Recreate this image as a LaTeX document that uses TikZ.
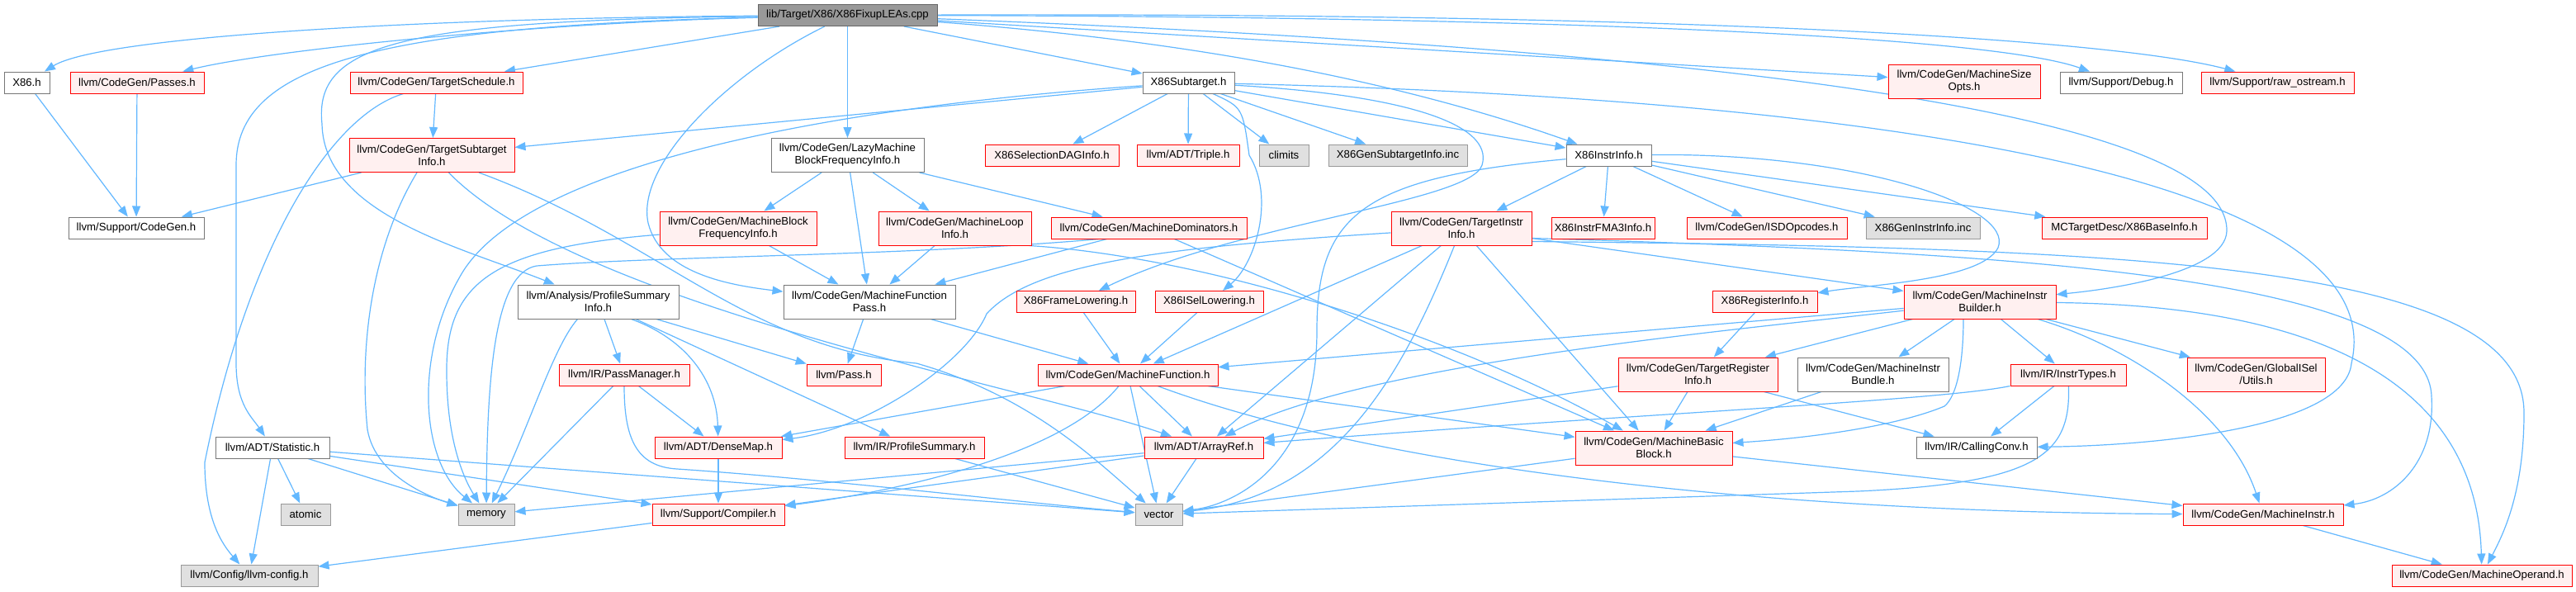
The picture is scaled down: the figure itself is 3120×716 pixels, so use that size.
\documentclass[tikz,border=0pt]{standalone}
\usepackage{fontspec}
\setmainfont{Liberation Sans}
\usetikzlibrary{arrows.meta}
\pgfdeclarelayer{bg}
\pgfsetlayers{bg,main}
\definecolor{edgec}{HTML}{63B8FF}
\definecolor{redb}{HTML}{FF0000}
\definecolor{redf}{HTML}{FFF0F0}
\definecolor{greyb}{HTML}{999999}
\definecolor{greyf}{HTML}{E0E0E0}
\definecolor{whiteb}{HTML}{777777}
\definecolor{rootf}{HTML}{999999}
\definecolor{rootb}{HTML}{666666}
\newcommand{\fnt}{\fontsize{13.2}{15}\selectfont}
\begin{document}
\begin{tikzpicture}[x=1pt,y=-1pt,
  nd/.style={draw, line width=1pt, inner sep=1pt, minimum height=26pt, font=\fnt, align=center},
  tall/.style={minimum height=41pt},
  wn/.style={nd, draw=whiteb, fill=white},
  rn/.style={nd, draw=redb, fill=redf},
  gn/.style={nd, draw=greyb, fill=greyf},
  rootn/.style={nd, draw=rootb, fill=rootf},
  edge/.style={draw=edgec, line width=1.2pt, -{Triangle[length=13pt,width=10pt]}}
]
\useasboundingbox (0,0) rectangle (3120,716);
% ---------- nodes ----------
\node[rootn, minimum width=217pt] (root) at (1026.5,18.5) {lib/Target/X86/X86FixupLEAs.cpp};
\node[wn, minimum width=55pt] (x86h) at (32.5,100) {X86.h};
\node[rn, minimum width=162pt] (passes) at (166,100) {llvm/CodeGen/Passes.h};
\node[rn, minimum width=209pt] (tsched) at (528.5,100) {llvm/CodeGen/TargetSchedule.h};
\node[rn, tall, minimum width=200pt] (tsi) at (523,188) {llvm/CodeGen/TargetSubtarget\\Info.h};
\node[wn, minimum width=164pt] (cgen) at (165,276) {llvm/Support/CodeGen.h};
\node[wn, minimum width=111pt] (x86st) at (1439.5,100) {X86Subtarget.h};
\node[wn, tall, minimum width=185pt] (lazy) at (1026.5,188) {llvm/CodeGen/LazyMachine\\BlockFrequencyInfo.h};
\node[rn, minimum width=162pt] (seldag) at (1274,188) {X86SelectionDAGInfo.h};
\node[rn, minimum width=124pt] (triple) at (1439,188) {llvm/ADT/Triple.h};
\node[gn, minimum width=60pt] (climits) at (1555,188) {climits};
\node[gn, minimum width=168pt] (gensub) at (1693,188) {X86GenSubtargetInfo.inc};
\node[wn, minimum width=103pt] (x86ii) at (1948.5,188) {X86InstrInfo.h};
\node[rn, tall, minimum width=184pt] (mso) at (2379,99) {llvm/CodeGen/MachineSize\\Opts.h};
\node[wn, minimum width=148pt] (debug) at (2569,100) {llvm/Support/Debug.h};
\node[rn, minimum width=185pt] (rawos) at (2758.5,100) {llvm/Support/raw\_ostream.h};
\node[wn, tall, minimum width=195pt] (psi) at (724.5,365.5) {llvm/Analysis/ProfileSummary\\Info.h};
\node[rn, minimum width=158pt] (pm) at (756,454) {llvm/IR/PassManager.h};
\node[rn, tall, minimum width=190pt] (mbfi) at (894,276.5) {llvm/CodeGen/MachineBlock\\FrequencyInfo.h};
\node[rn, tall, minimum width=185pt] (mli) at (1156.5,276.5) {llvm/CodeGen/MachineLoop\\Info.h};
\node[rn, minimum width=237pt] (md) at (1391.5,276) {llvm/CodeGen/MachineDominators.h};
\node[wn, tall, minimum width=208pt] (mfp) at (1053,365.5) {llvm/CodeGen/MachineFunction\\Pass.h};
\node[rn, minimum width=144pt] (x86fl) at (1303,365.5) {X86FrameLowering.h};
\node[rn, minimum width=131pt] (x86isel) at (1464.5,365.5) {X86ISelLowering.h};
\node[rn, minimum width=90pt] (pass) at (1022,454) {llvm/Pass.h};
\node[rn, minimum width=218pt] (mf) at (1366,454) {llvm/CodeGen/MachineFunction.h};
\node[rn, tall, minimum width=170pt] (tii) at (1770,276.5) {llvm/CodeGen/TargetInstr\\Info.h};
\node[rn, minimum width=125pt] (fma3) at (1941.5,276) {X86InstrFMA3Info.h};
\node[rn, minimum width=194pt] (isd) at (2140,276) {llvm/CodeGen/ISDOpcodes.h};
\node[gn, minimum width=138pt] (geninstr) at (2329,276) {X86GenInstrInfo.inc};
\node[rn, minimum width=127pt] (x86ri) at (2137.5,365.5) {X86RegisterInfo.h};
\node[rn, tall, minimum width=184pt] (mib) at (2398,365.5) {llvm/CodeGen/MachineInstr\\Builder.h};
\node[rn, tall, minimum width=193pt] (tri) at (2056.5,453.5) {llvm/CodeGen/TargetRegister\\Info.h};
\node[wn, tall, minimum width=183pt] (mibundle) at (2268.5,453.5) {llvm/CodeGen/MachineInstr\\Bundle.h};
\node[rn, minimum width=200pt] (x86bi) at (2573,276) {MCTargetDesc/X86BaseInfo.h};
\node[rn, minimum width=140pt] (instrt) at (2505,454) {llvm/IR/InstrTypes.h};
\node[rn, tall, minimum width=167pt] (gutils) at (2732.5,453.5) {llvm/CodeGen/GlobalISel\\/Utils.h};
\node[wn, minimum width=138pt] (stat) at (330,542) {llvm/ADT/Statistic.h};
\node[gn, minimum width=60pt] (atomic) at (370,623) {atomic};
\node[gn, minimum width=68pt] (memory) at (589,623) {memory};
\node[gn, minimum width=166pt] (llvmcfg) at (302,697) {llvm/Config/llvm-config.h};
\node[rn, minimum width=160pt] (compiler) at (870,623) {llvm/Support/Compiler.h};
\node[rn, minimum width=154pt] (densemap) at (870,542) {llvm/ADT/DenseMap.h};
\node[rn, minimum width=169pt] (profsum) at (1107.5,542) {llvm/IR/ProfileSummary.h};
\node[rn, minimum width=144pt] (arrayref) at (1458,542) {llvm/ADT/ArrayRef.h};
\node[gn, minimum width=57pt] (vector) at (1403.5,623) {vector};
\node[rn, tall, minimum width=190pt] (mbb) at (2003,542.5) {llvm/CodeGen/MachineBasic\\Block.h};
\node[wn, minimum width=146pt] (callconv) at (2394,542) {llvm/IR/CallingConv.h};
\node[rn, minimum width=194pt] (minstr) at (2741,623) {llvm/CodeGen/MachineInstr.h};
\node[rn, minimum width=218pt] (mop) at (3006,697) {llvm/CodeGen/MachineOperand.h};
% ---------- edges ----------
\begin{pgfonlayer}{bg}
\fill[white] (0,0) rectangle (3120,716);
% root
\draw[edge] (root) .. controls (500,22) and (120,45) .. (x86h);
\draw[edge] (root) .. controls (650,28) and (330,60) .. (passes);
\draw[edge] (root) -- (tsched);
\draw[edge] (root) .. controls (450,32) and (286,80) .. (286,200) -- (286,440) .. controls (286,490) and (305,505) .. (stat);
\draw[edge] (root) .. controls (480,25) and (380,55) .. (390,150) .. controls (392,260) and (560,300) .. (psi);
\draw[edge] (root) -- (lazy);
\draw[edge] (root) .. controls (880,90) and (770,200) .. (785,270) .. controls (800,330) and (880,345) .. (mfp);
\draw[edge] (root) -- (x86st);
\draw[edge] (root) .. controls (1450,50) and (1700,100) .. (x86ii);
\draw[edge] (root) -- (mso);
\draw[edge] (root) .. controls (1800,20) and (2400,40) .. (debug);
\draw[edge] (root) .. controls (2000,15) and (2550,45) .. (rawos);
\draw[edge] (root) .. controls (2100,60) and (2700,140) .. (2697,280) .. controls (2695,330) and (2560,350) .. (mib);
% X86Subtarget
\draw[edge] (x86st) -- (tsi);
\draw[edge] (x86st) .. controls (1000,130) and (640,200) .. (560,330) .. controls (500,430) and (510,560) .. (memory);
\draw[edge] (x86st) -- (seldag);
\draw[edge] (x86st) -- (triple);
\draw[edge] (x86st) -- (climits);
\draw[edge] (x86st) -- (gensub);
\draw[edge] (x86st) -- (x86ii);
\draw[edge] (x86st) .. controls (1700,115) and (1810,150) .. (1795,200) .. controls (1780,245) and (1500,270) .. (x86fl);
\draw[edge] (x86st) .. controls (1505,130) .. (1513,188) .. controls (1545,240) and (1520,320) .. (x86isel);
\draw[edge] (x86st) .. controls (2300,120) and (2900,220) .. (2848,440) .. controls (2840,520) and (2600,540) .. (callconv);
% X86InstrInfo
\draw[edge] (x86ii) -- (tii);
\draw[edge] (x86ii) -- (fma3);
\draw[edge] (x86ii) -- (isd);
\draw[edge] (x86ii) -- (geninstr);
\draw[edge] (x86ii) -- (x86bi);
\draw[edge] (x86ii) .. controls (2250,185) and (2440,250) .. (2420,300) .. controls (2400,340) and (2260,345) .. (x86ri);
\draw[edge] (x86ii) .. controls (1650,215) and (1595,260) .. (1595,400) .. controls (1595,560) and (1500,610) .. (vector);
% Lazy
\draw[edge] (lazy) -- (mbfi);
\draw[edge] (lazy) -- (mfp);
\draw[edge] (lazy) -- (mli);
\draw[edge] (lazy) -- (md);
% TargetSubtargetInfo
\draw[edge] (tsi) -- (cgen);
\draw[edge] ([xshift=-18pt]tsi.south) .. controls (450,300) and (435,420) .. (445,520) .. controls (455,580) and (530,605) .. (memory);
\draw[edge] (tsi) .. controls (700,370) and (1250,470) .. (arrayref);
\draw[edge] (tsi) .. controls (800,290) and (900,420) .. (1110,440) .. controls (1250,480) and (1330,560) .. (vector);
% TargetSchedule
\draw[edge] (tsched) -- (tsi);
\draw[edge] ([xshift=-40pt]tsched.south) .. controls (400,140) and (300,300) .. (248,560) .. controls (248,630) and (270,660) .. (llvmcfg);
% X86.h, Passes
\draw[edge] (x86h) -- (cgen);
\draw[edge] (passes) -- (cgen);
% ProfileSummaryInfo
\draw[edge] (psi) -- (pm);
\draw[edge] ([xshift=40pt]psi.south) .. controls (830,410) and (868,460) .. (densemap);
\draw[edge] (psi) -- (profsum);
\draw[edge] (psi) -- (pass);
\draw[edge] ([xshift=-25pt]psi.south) .. controls (670,420) and (640,520) .. (memory);
% PassManager
\draw[edge] (pm) -- (densemap);
\draw[edge] (pm) -- (memory);
\draw[edge] (pm) .. controls (756,530) and (770,565) .. (820,568) .. controls (1000,580) and (1250,610) .. (vector);
% MBFI, MLI, MD
\draw[edge] (mbfi) -- (mfp);
\draw[edge] (mbfi) .. controls (600,300) and (540,340) .. (541,450) .. controls (541,540) and (565,585) .. (memory);
\draw[edge] (mli) -- (mfp);
\draw[edge] ([xshift=90pt]mli.south) .. controls (1450,310) and (1750,400) .. (mbb);
\draw[edge] (md) -- (mfp);
\draw[edge] (md) -- (mbb);
\draw[edge] ([xshift=-60pt]md.south) .. controls (1100,310) and (800,310) .. (650,322) .. controls (600,330) and (590,450) .. (memory);
% MachineFunctionPass
\draw[edge] (mfp) -- (pass);
\draw[edge] (mfp) -- (mf);
\draw[edge] (x86fl) -- (mf);
\draw[edge] (x86isel) -- (mf);
% MachineFunction
\draw[edge] (mf) -- (densemap);
\draw[edge] (mf) -- (arrayref);
\draw[edge] (mf) -- (mbb);
\draw[edge] (mf) -- (vector);
\draw[edge] (mf) .. controls (1280,560) and (1050,600) .. (compiler);
\draw[edge] (mf) .. controls (1650,560) and (2100,620) .. (minstr);
% TargetInstrInfo
\draw[edge] (tii) -- (mib);
\draw[edge] (tii) -- (mbb);
\draw[edge] (tii) -- (mf);
\draw[edge] (tii) -- (arrayref);
\draw[edge] (tii) .. controls (1700,450) and (1620,600) .. (vector);
\draw[edge] (tii) .. controls (1400,300) and (1250,320) .. (1195,380) .. controls (1170,440) and (1050,520) .. (densemap);
\draw[edge] ([yshift=-12pt]tii.east) .. controls (2400,305) and (2940,330) .. (2945,480) .. controls (2950,560) and (2900,605) .. (minstr);
\draw[edge] ([yshift=-16pt]tii.east) .. controls (2600,300) and (3057,320) .. (3057,500) .. controls (3057,600) and (3030,650) .. (mop);
% X86RegisterInfo
\draw[edge] (x86ri) -- (tri);
% MachineInstrBuilder
\draw[edge] (mib) -- (mf);
\draw[edge] (mib) -- (tri);
\draw[edge] (mib) -- (mibundle);
\draw[edge] (mib) -- (instrt);
\draw[edge] (mib) -- (gutils);
\draw[edge] (mib) .. controls (2100,400) and (1650,440) .. (arrayref);
\draw[edge] ([xshift=-20pt]mib.south) .. controls (2378,440) and (2370,480) .. (2355,492) .. controls (2300,515) and (2200,530) .. (mbb);
\draw[edge] (mib) .. controls (2580,420) and (2700,500) .. (minstr);
\draw[edge] (mib) .. controls (2820,370) and (3000,470) .. (mop);
% TargetRegisterInfo, Bundle, InstrTypes
\draw[edge] (tri) -- (mbb);
\draw[edge] (tri) -- (arrayref);
\draw[edge] (tri) -- (callconv);
\draw[edge] (mibundle) -- (mbb);
\draw[edge] (instrt) -- (callconv);
\draw[edge] (instrt.south west) .. controls (2350,485) and (2000,500) .. (arrayref);
\draw[edge] (instrt) .. controls (2508,550) and (2470,585) .. (2250,595) -- (vector);
% MBB, MachineInstr
\draw[edge] (mbb) -- (vector);
\draw[edge] (mbb) -- (minstr);
\draw[edge] (minstr) -- (mop);
% ArrayRef, DenseMap, Compiler, ProfileSummary
\draw[edge] (arrayref) -- (vector);
\draw[edge] (arrayref) -- (compiler);
\draw[edge] (arrayref) -- (memory);
\draw[edge] (densemap) -- (compiler);
\draw[edge] (compiler) -- (llvmcfg);
\draw[edge] (profsum) -- (vector);
% Statistic
\draw[edge] (stat) -- (atomic);
\draw[edge] (stat) -- (memory);
\draw[edge] (stat) -- (llvmcfg);
\draw[edge] (stat) -- (compiler);
\draw[edge] (stat) -- (vector);
\end{pgfonlayer}
\end{tikzpicture}
\end{document}
